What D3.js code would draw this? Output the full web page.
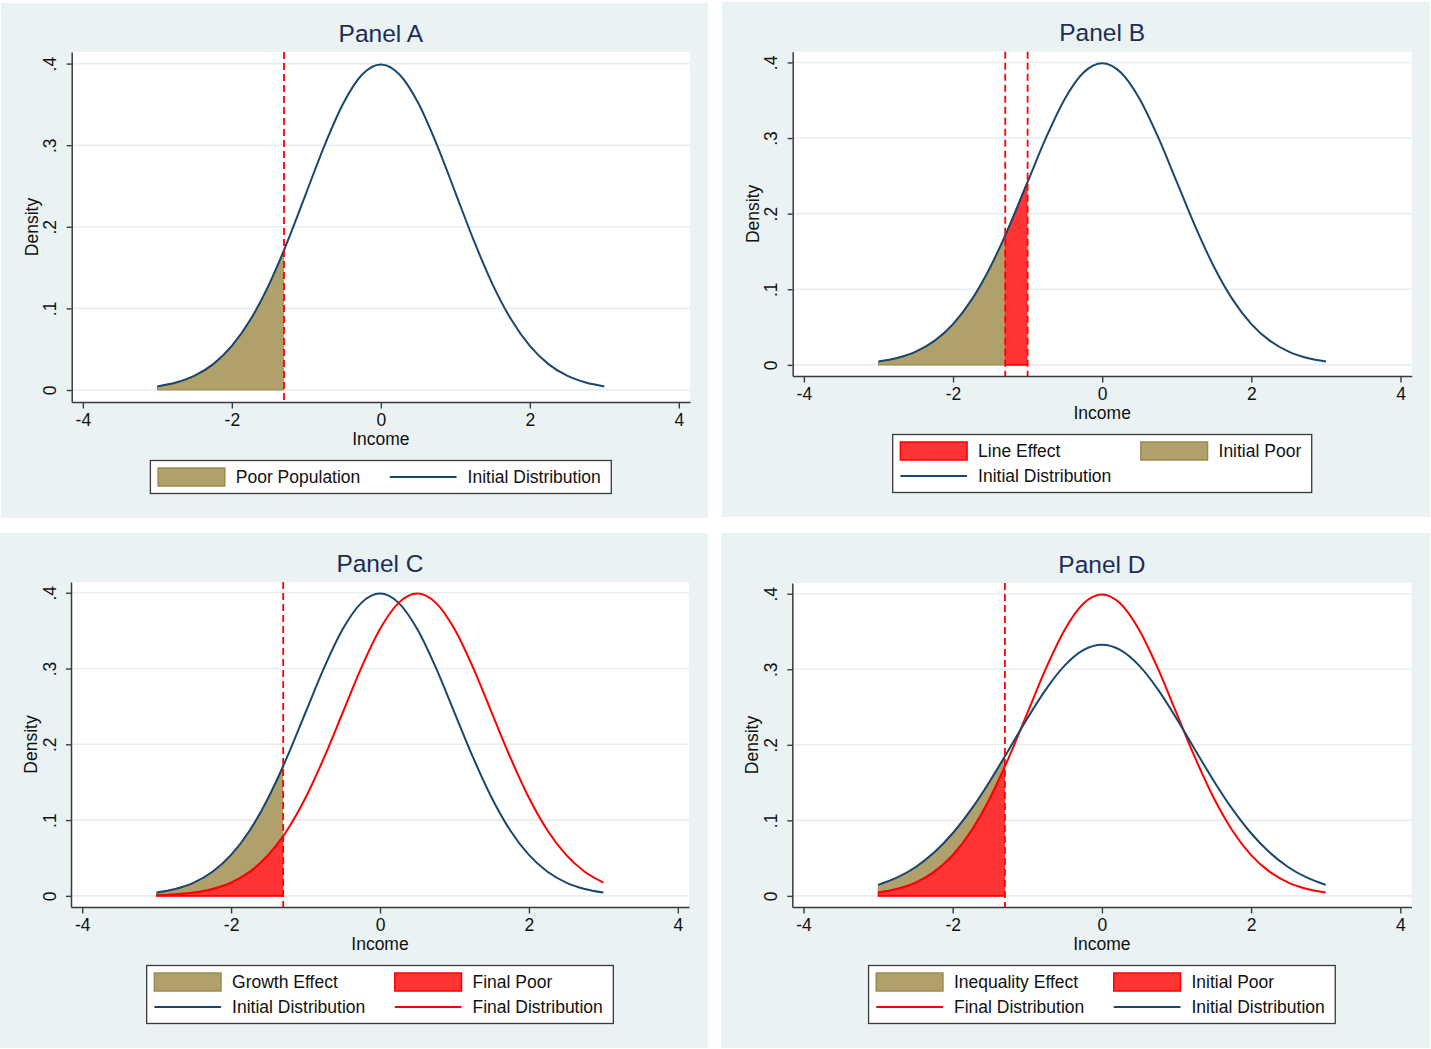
<!DOCTYPE html>
<html>
<head>
<meta charset="utf-8">
<script src="https://cdn.jsdelivr.net/npm/d3@7"></script>
<style>
  html, body { margin: 0; padding: 0; background: #ffffff; }
  svg { display: block; }
  text { font-family: "Liberation Sans", Arial, Helvetica, sans-serif; }
</style>
</head>
<body>
<svg id="chart" width="1431" height="1049"></svg>
<script>
// ---------------- DATA ----------------
const incomeGrid = [-3, -2.75, -2.5, -2.25, -2, -1.75, -1.5, -1.3, -1.25, -1, -0.75, -0.5, -0.25,
                    0, 0.25, 0.5, 0.75, 1, 1.25, 1.5, 1.75, 2, 2.25, 2.5, 2.75, 3];
// Initial distribution (Panels A, B, C) and final distribution of Panel D
const densityInitial = [0.00443, 0.00909, 0.01753, 0.03174, 0.05399, 0.08628, 0.12952, 0.17137, 0.18265,
                        0.24197, 0.30114, 0.35207, 0.38667, 0.39894, 0.38667, 0.35207, 0.30114, 0.24197,
                        0.18265, 0.12952, 0.08628, 0.05399, 0.03174, 0.01753, 0.00909, 0.00443];
// Panel C final distribution (shifted right)
const densityGrowth = [0.00087, 0.00203, 0.00443, 0.00909, 0.01753, 0.03174, 0.05399, 0.07895, 0.08628,
                       0.12952, 0.18265, 0.24197, 0.30114, 0.35207, 0.38667, 0.39894, 0.38667, 0.35207,
                       0.30114, 0.24197, 0.18265, 0.12952, 0.08628, 0.05399, 0.03174, 0.01753];
// Panel D initial distribution (wider)
const densityWide = [0.01461, 0.02406, 0.03796, 0.05732, 0.08292, 0.11479, 0.15221, 0.18487, 0.19323,
                     0.23492, 0.27344, 0.30478, 0.32528, 0.33245, 0.32528, 0.30478, 0.27344, 0.23492,
                     0.19323, 0.15221, 0.11479, 0.08292, 0.05732, 0.03796, 0.02406, 0.01461];
const povertyLine = -1.3;
const raisedLine = -1.0;
const curveStart = -3;
const xTickValues = [-4, -2, 0, 2, 4];
const xTickLabels = ["-4", "-2", "0", "2", "4"];
const yTickValues = [0, 0.1, 0.2, 0.3, 0.4];
const yTickLabels = ["0", ".1", ".2", ".3", ".4"];
const panelTitles = ["Panel A", "Panel B", "Panel C", "Panel D"];
const xAxisTitle = "Income";
const yAxisTitle = "Density";

// ---------------- STYLE ----------------
const C = {
  bg: "#eaf2f3", grid: "#e6eef0", navy: "#1a476f", red: "#ff0000",
  redFill: "#ff3535", brownFill: "#b0a06c", brownLine: "#9c8a50",
  title: "#1c2e55", axis: "#3a3a3a", text: "#111111"
};
const FONT = 17.5;

const series = {
  initial: incomeGrid.map((x, i) => ({x, y: densityInitial[i]})),
  growth: incomeGrid.map((x, i) => ({x, y: densityGrowth[i]})),
  wide: incomeGrid.map((x, i) => ({x, y: densityWide[i]}))
};

const panels = [
  { title: panelTitles[0], bg: [1, 3, 708, 518], plot: {l: 71.7, r: 690, t: 52, b: 402},
    fills: [{s: "initial", lo: curveStart, hi: povertyLine, kind: "brown"}],
    lines: [{s: "initial", color: C.navy}],
    vlines: [povertyLine],
    legend: [{kind: "brown", label: "Poor Population"}, {kind: "line", color: C.navy, label: "Initial Distribution"}] },
  { title: panelTitles[1], bg: [722, 2, 1430, 517], plot: {l: 792.7, r: 1411.7, t: 51.7, b: 376},
    fills: [{s: "initial", lo: curveStart, hi: povertyLine, kind: "brown"},
            {s: "initial", lo: povertyLine, hi: raisedLine, kind: "red"}],
    lines: [{s: "initial", color: C.navy}],
    vlines: [povertyLine, raisedLine],
    legend: [{kind: "red", label: "Line Effect"}, {kind: "brown", label: "Initial Poor"},
             {kind: "line", color: C.navy, label: "Initial Distribution"}] },
  { title: panelTitles[2], bg: [0, 533, 708, 1048], plot: {l: 71, r: 689, t: 582, b: 907},
    fills: [{s: "initial", lo: curveStart, hi: povertyLine, kind: "brown"},
            {s: "growth", lo: curveStart, hi: povertyLine, kind: "red"}],
    lines: [{s: "initial", color: C.navy}, {s: "growth", color: C.red}],
    vlines: [povertyLine],
    legend: [{kind: "brown", label: "Growth Effect"}, {kind: "red", label: "Final Poor"},
             {kind: "line", color: C.navy, label: "Initial Distribution"},
             {kind: "line", color: C.red, label: "Final Distribution"}] },
  { title: panelTitles[3], bg: [721, 533, 1430, 1048], plot: {l: 792.3, r: 1411.5, t: 583, b: 907},
    fills: [{s: "wide", lo: curveStart, hi: povertyLine, kind: "brown"},
            {s: "initial", lo: curveStart, hi: povertyLine, kind: "red"}],
    lines: [{s: "initial", color: C.red}, {s: "wide", color: C.navy}],
    vlines: [povertyLine],
    legend: [{kind: "brown", label: "Inequality Effect"}, {kind: "red", label: "Initial Poor"},
             {kind: "line", color: C.red, label: "Final Distribution"},
             {kind: "line", color: C.navy, label: "Initial Distribution"}] }
];

const svg = d3.select("#chart");
const defs = svg.append("defs");

panels.forEach((P, pi) => {
  const p = P.plot;
  const g = svg.append("g");
  g.append("rect").attr("x", P.bg[0]).attr("y", P.bg[1])
    .attr("width", P.bg[2] - P.bg[0]).attr("height", P.bg[3] - P.bg[1]).attr("fill", C.bg);
  g.append("rect").attr("x", p.l).attr("y", p.t).attr("width", p.r - p.l).attr("height", p.b - p.t)
    .attr("fill", "#ffffff");

  const x = d3.scaleLinear().domain([-4.15, 4.15]).range([p.l, p.r]);
  const y = d3.scaleLinear().domain([-0.0147, 0.4142]).range([p.b, p.t]);

  // grid
  g.append("g").selectAll("line").data(yTickValues).join("line")
    .attr("x1", p.l).attr("x2", p.r).attr("y1", d => y(d)).attr("y2", d => y(d))
    .attr("stroke", C.grid).attr("stroke-width", 1.6);

  const curve = d3.curveMonotoneX;
  const area = d3.area().x(d => x(d.x)).y0(y(0)).y1(d => y(d.y)).curve(curve);
  const line = d3.line().x(d => x(d.x)).y(d => y(d.y)).curve(curve);

  P.fills.forEach((f, fi) => {
    const id = `clip-${pi}-${fi}`;
    defs.append("clipPath").attr("id", id).append("rect")
      .attr("x", x(f.lo) - 0.5).attr("y", p.t).attr("width", x(f.hi) - x(f.lo) + 0.5).attr("height", p.b - p.t + 1);
    g.append("path").datum(series[f.s]).attr("d", area).attr("clip-path", `url(#${id})`)
      .attr("fill", f.kind === "red" ? C.redFill : C.brownFill)
      .attr("stroke", f.kind === "red" ? C.red : C.brownLine)
      .attr("stroke-width", f.kind === "red" ? 1.6 : 1.2);
  });

  P.lines.forEach(l => {
    g.append("path").datum(series[l.s]).attr("d", line).attr("fill", "none")
      .attr("stroke", l.color).attr("stroke-width", 2);
  });

  g.append("g").selectAll("line").data(P.vlines).join("line")
    .attr("x1", d => x(d)).attr("x2", d => x(d)).attr("y1", p.t).attr("y2", p.b)
    .attr("stroke", C.red).attr("stroke-width", 1.8).attr("stroke-dasharray", "7,4");

  // axes
  const ax = g.append("g").attr("transform", `translate(0,${p.b})`)
    .call(d3.axisBottom(x).tickValues(xTickValues).tickFormat((d, i) => xTickLabels[i]).tickSize(6.5).tickSizeOuter(0));
  const ay = g.append("g").attr("transform", `translate(${p.l},0)`)
    .call(d3.axisLeft(y).tickValues(yTickValues).tickFormat((d, i) => yTickLabels[i]).tickSize(5).tickSizeOuter(0));
  [ax, ay].forEach(a => {
    a.select(".domain").attr("stroke", C.axis).attr("stroke-width", 1.5);
    a.selectAll(".tick line").attr("stroke", C.axis).attr("stroke-width", 1.4);
    a.selectAll("text").attr("font-size", FONT).attr("fill", C.text)
      .attr("font-family", '"Liberation Sans", Arial, sans-serif');
  });
  ax.selectAll(".tick text").attr("y", 23.5).attr("dy", null);
  ay.selectAll(".tick text").attr("x", null).attr("dy", null)
    .attr("text-anchor", "middle").attr("transform", "translate(-15.5,0) rotate(-90)");

  // titles
  g.append("text").attr("x", (p.l + p.r) / 2).attr("y", p.t - 10.5).attr("text-anchor", "middle")
    .attr("font-size", 24.5).attr("fill", C.title).text(P.title);
  g.append("text").attr("x", (p.l + p.r) / 2).attr("y", p.b + 43).attr("text-anchor", "middle")
    .attr("font-size", FONT).attr("fill", C.text).text(xAxisTitle);
  g.append("text").attr("transform", `translate(${p.l - 34},${(p.t + p.b) / 2}) rotate(-90)`)
    .attr("text-anchor", "middle").attr("font-size", FONT).attr("fill", C.text).text(yAxisTitle);

  // legend
  const lg = g.append("g");
  const box = lg.append("rect").attr("fill", "#ffffff").attr("stroke", C.axis).attr("stroke-width", 1.3);
  const swW = 66.7, swH = 18, pad = 7.7, textOff = 77.7, colGap = 29.5, rowH = 25, firstRow = 16.5;
  const texts = P.legend.map(it => lg.append("text").attr("font-size", FONT).attr("fill", C.text).text(it.label));
  const widths = texts.map(t => t.node().getComputedTextLength());
  const col1W = d3.max(widths.filter((w, i) => i % 2 === 0));
  const col2W = d3.max(widths.filter((w, i) => i % 2 === 1)) || 0;
  const colX = [pad, pad + textOff + col1W + colGap];
  const nRows = Math.ceil(P.legend.length / 2);
  const boxW = colX[1] + textOff + col2W + 10.5;
  const boxH = firstRow * 2 + rowH * (nRows - 1);
  P.legend.forEach((it, i) => {
    const cx = colX[i % 2];
    const cy = firstRow + rowH * Math.floor(i / 2);
    if (it.kind === "line") {
      lg.append("line").attr("x1", cx).attr("x2", cx + swW).attr("y1", cy).attr("y2", cy)
        .attr("stroke", it.color).attr("stroke-width", 2);
    } else {
      lg.append("rect").attr("x", cx).attr("y", cy - swH / 2).attr("width", swW).attr("height", swH)
        .attr("fill", it.kind === "red" ? C.redFill : C.brownFill)
        .attr("stroke", it.kind === "red" ? C.red : C.brownLine).attr("stroke-width", 1.5);
    }
    texts[i].attr("x", cx + textOff).attr("y", cy + 6.2).raise();
  });
  box.attr("x", 0).attr("y", 0).attr("width", boxW).attr("height", boxH);
  lg.attr("transform", `translate(${(p.l + p.r) / 2 - boxW / 2},${p.b + 58.5})`);
});
</script>
</body>
</html>
